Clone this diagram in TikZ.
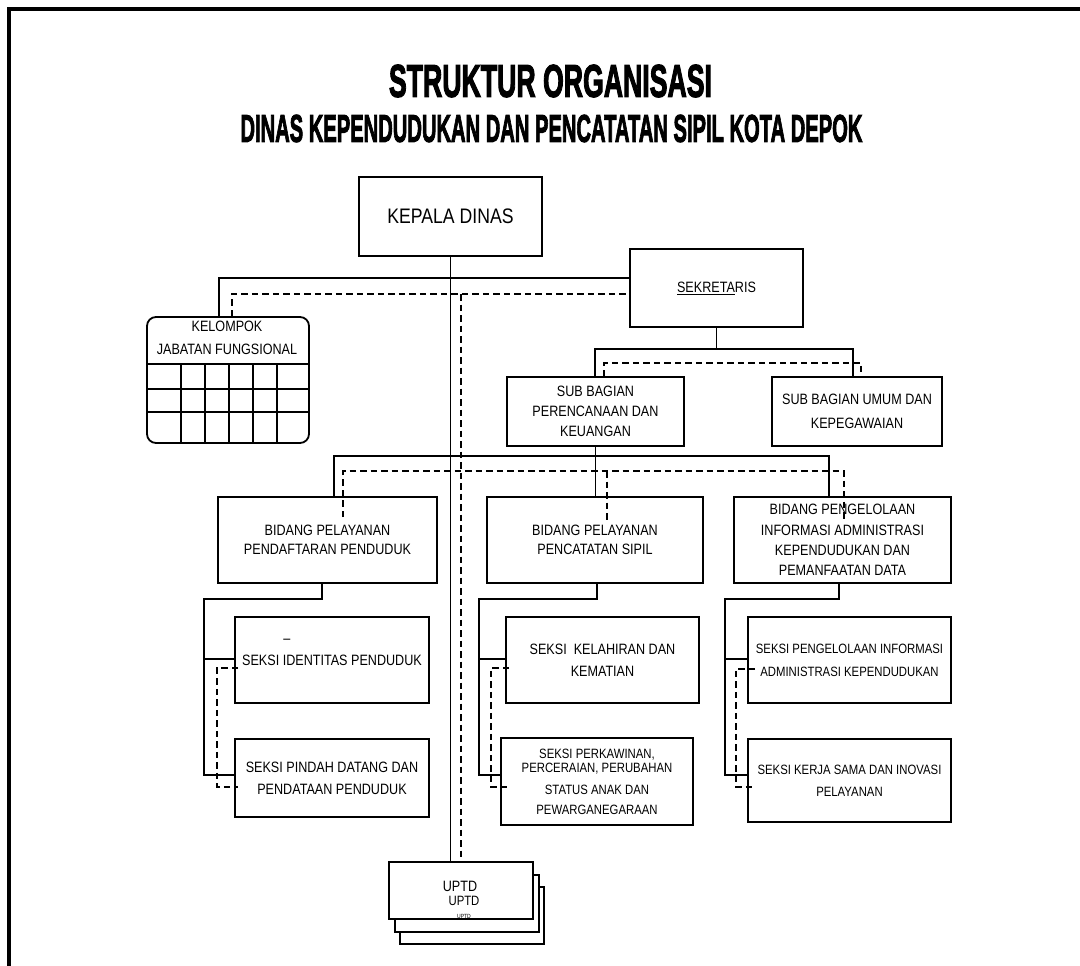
\documentclass[tikz,border=0pt]{standalone}
\usepackage{graphicx}
\usepackage{fontspec}
\setmainfont{Liberation Sans}[FakeStretch=0.84]
\newfontfamily\titlefont{Liberation Sans}[BoldFeatures={FakeBold=3}]
\usetikzlibrary{calc}
\tikzset{
  box/.style={draw, line width=1.8pt, inner sep=0pt, align=center, fill=white,
    font=\fontsize{15}{20}\selectfont},
  txt/.style={inner sep=0pt, align=center, font=\fontsize{15}{20}\selectfont},
  conn/.style={line width=1.6pt},
  kline/.style={line width=1.1pt},
  dconn/.style={line width=1.2pt, dash pattern=on 6.5pt off 4pt},
  gridline/.style={line width=1.6pt},
}
\begin{document}
\begin{tikzpicture}[x=1pt,y=-1pt]
\useasboundingbox (0,0) rectangle (1080,966);
% frame
\draw[line width=4pt] (9,980) -- (9,9.5) -- (1095,9.5);
% titles
\node[inner sep=0pt] (t1) at (550.5,81) {\resizebox{323pt}{32pt}{\titlefont\bfseries STRUKTUR ORGANISASI}};
\node[inner sep=0pt] (t2) at (551.5,128.5) {\resizebox{622pt}{27pt}{\titlefont\bfseries DINAS KEPENDUDUKAN DAN PENCATATAN SIPIL KOTA DEPOK}};
% boxes
\node[box, minimum width=183pt, minimum height=79pt, font=\fontsize{21}{24}\selectfont] (kepala) at (450.5,216.5) {KEPALA DINAS};
\node[box, minimum width=173pt, minimum height=78pt] (sek) at (716.5,288) {\underline{SEKRETA}RIS};
\node[draw, line width=1.8pt, rounded corners=9pt, minimum width=162pt, minimum height=126pt, inner sep=0pt] (kel) at (228,380) {};
\node[txt, font=\fontsize{15}{23}\selectfont] (kelt) at (227,337.5) {KELOMPOK\\JABATAN FUNGSIONAL};
\foreach \yy in {364,389,412} \draw[gridline] (kel.west |- 0,\yy) -- (kel.east |- 0,\yy);
\foreach \xx in {181,205,229,253,277} \draw[gridline] (\xx,364) -- (kel.south -| \xx,0);
\node[box, minimum width=177pt, minimum height=69pt, font=\fontsize{15}{20}\selectfont] (sb1) at (595.5,411.5) {SUB BAGIAN\\PERENCANAAN DAN\\KEUANGAN};
\node[box, minimum width=170pt, minimum height=69pt, font=\fontsize{15}{24}\selectfont] (sb2) at (857,411.5) {SUB BAGIAN UMUM DAN\\KEPEGAWAIAN};
\node[box, minimum width=219pt, minimum height=86pt, font=\fontsize{15}{19}\selectfont] (bd1) at (327.5,540) {BIDANG PELAYANAN\\PENDAFTARAN PENDUDUK};
\node[box, minimum width=216pt, minimum height=86pt, font=\fontsize{15}{19}\selectfont] (bd2) at (595,540) {BIDANG PELAYANAN\\PENCATATAN SIPIL};
\node[box, minimum width=217pt, minimum height=86pt, font=\fontsize{15}{20.3}\selectfont] (bd3) at (842.5,540) {BIDANG PENGELOLAAN\\INFORMASI ADMINISTRASI\\KEPENDUDUKAN DAN\\PEMANFAATAN DATA};
\node[box, minimum width=194pt, minimum height=86pt] (s11) at (332,660) {SEKSI IDENTITAS PENDUDUK};
\node[txt] (s11d) at (287,641) {–};
\node[box, minimum width=194pt, minimum height=78pt, font=\fontsize{15}{22}\selectfont] (s12) at (332,778) {SEKSI PINDAH DATANG DAN\\PENDATAAN PENDUDUK};
\node[box, minimum width=193pt, minimum height=86pt, font=\fontsize{15}{22}\selectfont] (s21) at (602.5,660) {SEKSI\ \ KELAHIRAN DAN\\KEMATIAN};
\node[box, minimum width=192pt, minimum height=87pt, font=\fontsize{13.5}{20}\selectfont] (s22) at (597,781.5) {SEKSI PERKAWINAN,\\[-6pt]PERCERAIAN, PERUBAHAN\\[2pt]STATUS ANAK DAN\\PEWARGANEGARAAN};
\node[box, minimum width=203pt, minimum height=86pt, font=\fontsize{13.5}{23}\selectfont] (s31) at (849.5,660) {SEKSI PENGELOLAAN INFORMASI\\ADMINISTRASI KEPENDUDUKAN};
\node[box, minimum width=203pt, minimum height=83pt, font=\fontsize{13.5}{22}\selectfont] (s32) at (849.5,780.5) {SEKSI KERJA SAMA DAN INOVASI\\PELAYANAN};
% UPTD stack
\node[box, line width=1.5pt, minimum width=144pt, minimum height=57pt] (uptd3) at (472,915.5) {};
\node[box, line width=1.5pt, minimum width=144pt, minimum height=57pt] (uptd2) at (467,903.5) {};
\node[box, line width=1.5pt, minimum width=144pt, minimum height=57pt] (uptd1) at (461,890.5) {};
\node[txt, font=\fontsize{15}{15}\selectfont] (ut1) at (460,886) {UPTD};
\node[txt, font=\fontsize{13.5}{14}\selectfont] (ut2) at (464,901) {UPTD};
\node[txt, font=\fontsize{6}{6}\selectfont] (ut3) at (464,916) {UPTD};
% ---- solid connectors
\draw[kline] (kepala.south) -- (kepala.south |- uptd1.north);
\coordinate (ja) at (219,278);
\draw[conn] (kel.north -| ja) -- (ja) -- (ja -| sek.west);
\coordinate (sa) at (595,349);
\coordinate (sb) at (853,349);
\draw[conn] (sek.south) -- (sek.south |- sa);
\draw[conn] (sb1.north -| sa) -- (sa) -- (sb) -- (sb2.north -| sb);
\coordinate (ba) at (334,456);
\coordinate (bb) at (829,456);
\draw[conn] (sb1.south) -- (bd2.north -| sb1.south);
\draw[conn] (bd1.north -| ba) -- (ba) -- (bb) -- (bd3.north -| bb);
% column 1
\coordinate (p1) at (322,599); \coordinate (q1) at (204,599);
\coordinate (r1) at (204,659); \coordinate (u1) at (204,775);
\draw[conn] (bd1.south -| p1) -- (p1) -- (q1) -- (u1) -- (u1 -| s12.west);
\draw[conn] (r1) -- (r1 -| s11.west);
% column 2
\coordinate (p2) at (597,599); \coordinate (q2) at (479,599);
\coordinate (r2) at (479,659); \coordinate (u2) at (479,775);
\draw[conn] (bd2.south -| p2) -- (p2) -- (q2) -- (u2) -- (u2 -| s22.west);
\draw[conn] (r2) -- (r2 -| s21.west);
% column 3
\coordinate (p3) at (839,599); \coordinate (q3) at (725,599);
\coordinate (r3) at (725,659); \coordinate (u3) at (725,775);
\draw[conn] (bd3.south -| p3) -- (p3) -- (q3) -- (u3) -- (u3 -| s32.west);
\draw[conn] (r3) -- (r3 -| s31.west);
% ---- dashed connectors
\coordinate (da) at (232,294);
\coordinate (db) at (461,294);
\draw[dconn] (kel.north -| da) -- (da) -- ($(da -| sek.west)+(-2,0)$);
\draw[dconn] (db) -- (db |- uptd1.north);
\coordinate (sc) at (604,363);
\coordinate (sd) at (861,363);
\draw[dconn] (sb1.north -| sc) -- (sc) -- (sd) -- (sb2.north -| sd);
\coordinate (bc) at (343,471); \coordinate (bcx) at (343,517);
\coordinate (bd) at (844,471); \coordinate (bdx) at (844,522);
\coordinate (be) at (607,471); \coordinate (bex) at (607,520);
\draw[dconn] (bcx) -- (bc) -- (bd) -- (bdx);
\draw[dconn] (be) -- (bex);
\coordinate (v1) at (217,668); \coordinate (w1) at (217,787);
\draw[dconn] ($(v1 -| s11.west)+(4,0)$) -- (v1) -- (w1) -- ($(w1 -| s12.west)+(4,0)$);
\coordinate (v2) at (491,668); \coordinate (w2) at (491,787);
\draw[dconn] ($(v2 -| s21.west)+(4,0)$) -- (v2) -- (w2) -- ($(w2 -| s22.west)+(11,0)$);
\coordinate (v3) at (736,669); \coordinate (w3) at (736,787);
\draw[dconn] ($(v3 -| s31.west)+(8,0)$) -- (v3) -- (w3) -- ($(w3 -| s32.west)+(8,0)$);
\end{tikzpicture}
\end{document}
